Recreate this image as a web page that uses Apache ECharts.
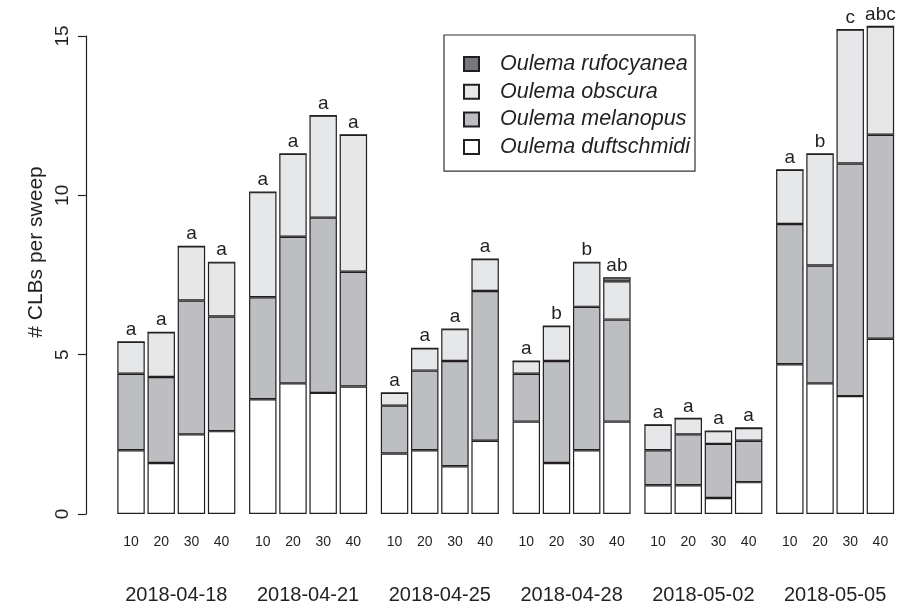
<!DOCTYPE html>
<html>
<head>
<meta charset="utf-8">
<title>CLBs per sweep</title>
<script src="https://cdn.jsdelivr.net/npm/echarts@6/dist/echarts.min.js"></script>
<style>
  html, body { margin: 0; padding: 0; background: #fff; }
  #chart { width: 902px; height: 606px; }
</style>
</head>
<body>
<div id="chart"></div>
<script>
// sampling dates and sweep counts
var dates = ["2018-04-18", "2018-04-21", "2018-04-25", "2018-04-28", "2018-05-02", "2018-05-05"];
var sweeps = ["10", "20", "30", "40"];

// mean beetles per sweep, 4 sweep levels per date (in date order)
var duftschmidi = [2.0, 1.6, 2.5, 2.6, 3.6, 4.1, 3.8, 4.0, 1.9, 2.0, 1.5, 2.3,
                   2.9, 1.6, 2.0, 2.9, 0.9, 0.9, 0.5, 1.0, 4.7, 4.1, 3.7, 5.5];
var melanopus = [2.4, 2.7, 4.2, 3.6, 3.2, 4.6, 5.5, 3.6, 1.5, 2.5, 3.3, 4.7,
                 1.5, 3.2, 4.5, 3.2, 1.1, 1.6, 1.7, 1.3, 4.4, 3.7, 7.3, 6.4];
var obscura = [1.0, 1.4, 1.7, 1.7, 3.3, 2.6, 3.2, 4.3, 0.4, 0.7, 1.0, 1.0,
               0.4, 1.1, 1.4, 1.2, 0.8, 0.5, 0.4, 0.4, 1.7, 3.5, 4.2, 3.4];
var rufocyanea = [0, 0, 0, 0, 0, 0, 0, 0, 0, 0, 0, 0,
                  0, 0, 0, 0.13, 0, 0, 0, 0, 0, 0, 0, 0];

// significance letters above each bar
var letters = ["a", "a", "a", "a", "a", "a", "a", "a", "a", "a", "a", "a",
               "a", "b", "b", "ab", "a", "a", "a", "a", "a", "b", "c", "abc"];

var yTicks = [0, 5, 10, 15];

var species = [
  { name: "Oulema duftschmidi", data: duftschmidi, color: "#ffffff" },
  { name: "Oulema melanopus", data: melanopus, color: "#bdbec1" },
  { name: "Oulema obscura", data: obscura, color: "#e6e7e9" },
  { name: "Oulema rufocyanea", data: rufocyanea, color: "#77787b" }
];

var font = "Liberation Sans, Arial, Helvetica, sans-serif";
var ink = "#231f20";

// layout: bar width w, gap 0.1w inside a group, 0.5w between groups
var w = 27.45;
var catW = 1.1 * w;
var gridW = 4 * catW;
var step = 4.8 * w;
var firstLeft = 117.3 - 0.05 * w;

var grids = [], xAxes = [], yAxes = [], series = [];
dates.forEach(function (d, i) {
  grids.push({
    left: firstLeft + i * step, width: gridW, top: 36, bottom: 92,
    outerBoundsMode: "none"
  });
  xAxes.push({
    type: "category",
    gridIndex: i,
    data: sweeps,
    axisLine: { show: false },
    axisTick: { show: false },
    axisLabel: { color: ink, fontSize: 14, fontFamily: font, margin: 21 },
    name: d,
    nameLocation: "middle",
    nameGap: 71,
    nameTextStyle: { color: ink, fontSize: 20, fontFamily: font }
  });
  yAxes.push({
    type: "value",
    gridIndex: i,
    min: 0,
    max: 15,
    interval: 5,
    show: i === 0,
    offset: 30,
    splitLine: { show: false },
    axisLine: { show: true, lineStyle: { color: ink, width: 1.2 } },
    axisTick: { show: true, length: 8, lineStyle: { color: ink, width: 1.2 } },
    axisLabel: {
      rotate: 90, margin: 14, color: ink, fontSize: 19, fontFamily: font,
      customValues: yTicks
    },
    name: i === 0 ? "# CLBs per sweep" : "",
    nameLocation: "middle",
    nameRotate: 90,
    nameGap: 39,
    nameTextStyle: { color: ink, fontSize: 21, fontFamily: font, padding: [0, 0, 0, 46] }
  });
  species.forEach(function (s, k) {
    var ser = {
      type: "bar",
      name: s.name,
      xAxisIndex: i,
      yAxisIndex: i,
      stack: "g" + i,
      data: s.data.slice(i * 4, i * 4 + 4),
      barCategoryGap: "9.09%",
      clip: false,
      silent: true,
      animation: false,
      itemStyle: { color: s.color, borderColor: ink, borderWidth: 1.2 }
    };
    if (k === species.length - 1) {
      ser.label = {
        show: true,
        position: "top",
        distance: 2,
        color: ink,
        fontSize: 19,
        fontFamily: font,
        formatter: function (p) { return letters[i * 4 + p.dataIndex]; }
      };
    }
    series.push(ser);
  });
});

var option = {
  backgroundColor: "#fff",
  animation: false,
  grid: grids,
  xAxis: xAxes,
  yAxis: yAxes,
  legend: {
    data: ["Oulema rufocyanea", "Oulema obscura", "Oulema melanopus", "Oulema duftschmidi"],
    orient: "vertical",
    left: 444,
    top: 35,
    padding: [18, 5, 13, 19],
    itemWidth: 15,
    itemHeight: 14,
    itemGap: 5.7,
    icon: "rect",
    selectedMode: false,
    borderColor: "#333",
    borderWidth: 1.2,
    textStyle: {
      color: ink, fontSize: 21.5, fontStyle: "italic", fontFamily: font,
      lineHeight: 20, padding: [0, 0, 0, 16]
    }
  },
  series: series
};

var chart = echarts.init(document.getElementById("chart"));
chart.setOption(option);
</script>
</body>
</html>
